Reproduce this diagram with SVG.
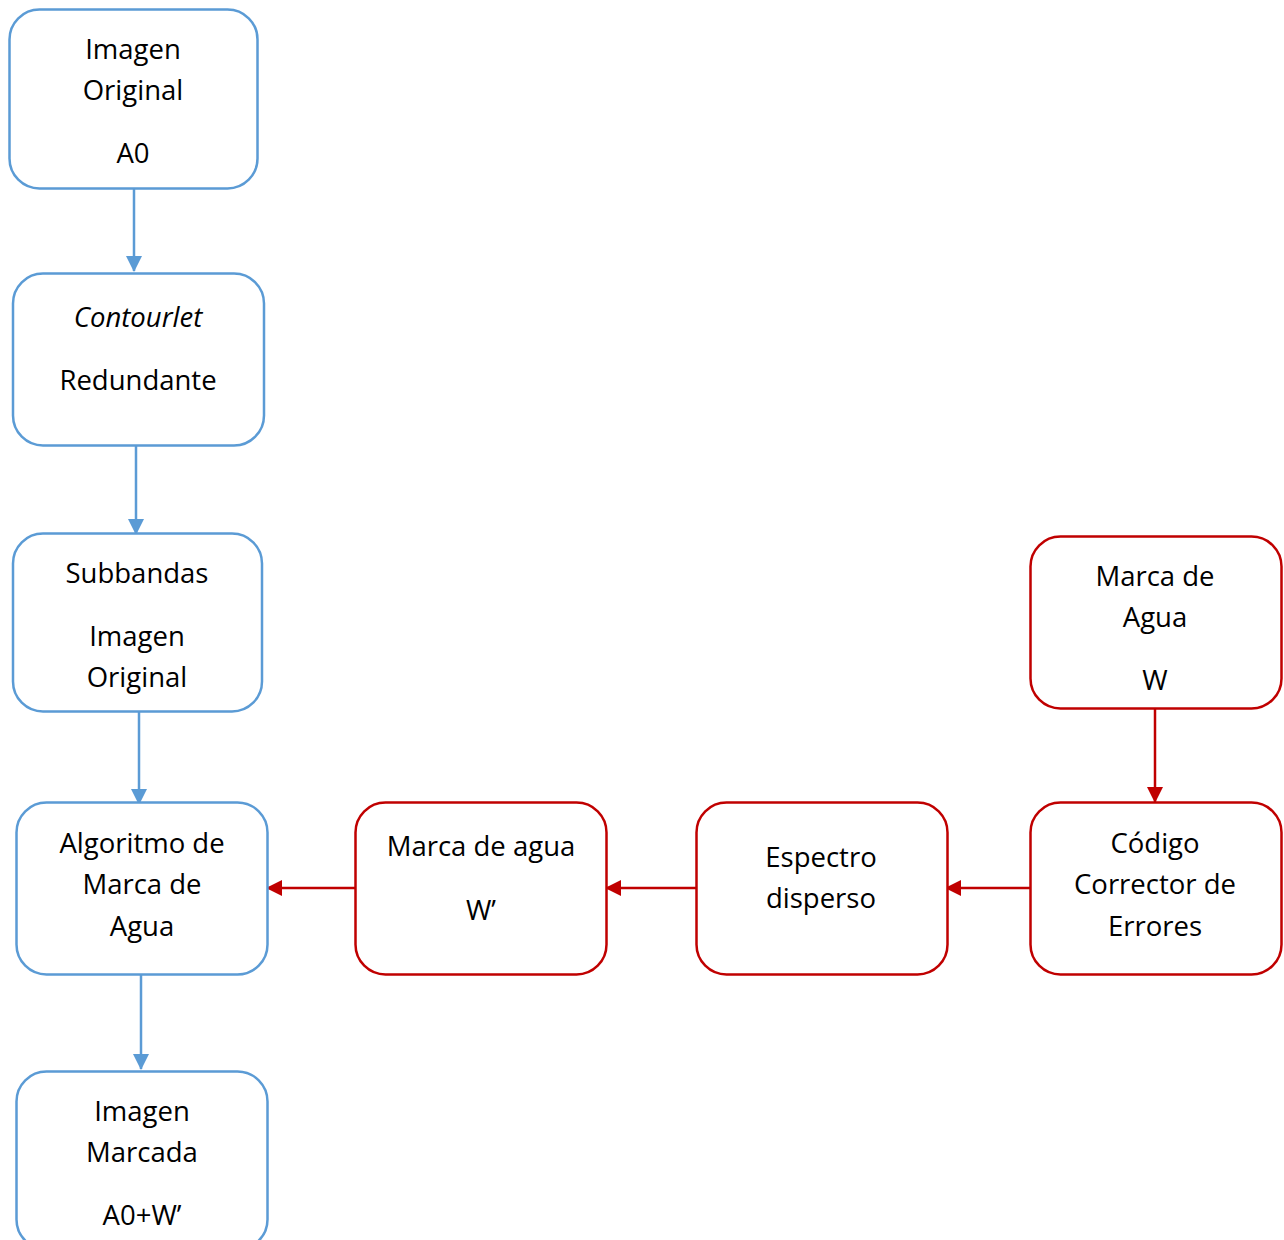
<svg xmlns="http://www.w3.org/2000/svg" width="1284" height="1240" viewBox="0 0 1284 1240">
  <style>
    .box { fill: #FFFFFF; stroke-width: 2.5; }
    .blue { stroke: #5B9BD5; }
    .red { stroke: #C00000; }
    .lbl { font-family: "Open Sans", "Liberation Sans", sans-serif; font-size: 27.5px; fill: #000000; text-anchor: middle; }
    .it { font-style: italic; }
    .wire { fill: none; stroke-width: 2.5; }
  </style>
  <defs>
    <marker id="arrowBlue" viewBox="0 0 16 16" refX="15" refY="8" markerWidth="16" markerHeight="16" markerUnits="userSpaceOnUse" orient="auto">
      <path d="M0,0 L16,8 L0,16 Z" fill="#5B9BD5"/>
    </marker>
    <marker id="arrowRed" viewBox="0 0 16 16" refX="15" refY="8" markerWidth="16" markerHeight="16" markerUnits="userSpaceOnUse" orient="auto">
      <path d="M0,0 L16,8 L0,16 Z" fill="#C00000"/>
    </marker>
  </defs>

  <g id="connectors">
    <line class="wire blue" x1="134" y1="189" x2="134" y2="271" marker-end="url(#arrowBlue)"/>
    <line class="wire blue" x1="136" y1="446" x2="136" y2="534" marker-end="url(#arrowBlue)"/>
    <line class="wire blue" x1="139" y1="712" x2="139" y2="804" marker-end="url(#arrowBlue)"/>
    <line class="wire blue" x1="141" y1="975" x2="141" y2="1069" marker-end="url(#arrowBlue)"/>
    <line class="wire red" x1="1155" y1="709" x2="1155" y2="802" marker-end="url(#arrowRed)"/>
    <line class="wire red" x1="1030" y1="888" x2="946" y2="888" marker-end="url(#arrowRed)"/>
    <line class="wire red" x1="696" y1="888" x2="606" y2="888" marker-end="url(#arrowRed)"/>
    <line class="wire red" x1="355" y1="888" x2="267" y2="888" marker-end="url(#arrowRed)"/>
  </g>

  <g id="imagen-original">
    <rect class="box blue" x="9.5" y="9.5" width="248" height="179" rx="30"/>
    <text class="lbl" x="133" y="59">Imagen</text>
    <text class="lbl" x="133" y="100">Original</text>
    <text class="lbl" x="133" y="163">A0</text>
  </g>

  <g id="contourlet">
    <rect class="box blue" x="13" y="273.5" width="251" height="172" rx="30"/>
    <text class="lbl it" x="138" y="327">Contourlet</text>
    <text class="lbl" x="138" y="390">Redundante</text>
  </g>

  <g id="subbandas">
    <rect class="box blue" x="13" y="533.5" width="249" height="178" rx="30"/>
    <text class="lbl" x="137" y="583">Subbandas</text>
    <text class="lbl" x="137" y="646">Imagen</text>
    <text class="lbl" x="137" y="687">Original</text>
  </g>

  <g id="algoritmo">
    <rect class="box blue" x="16.5" y="802.5" width="251" height="172" rx="30"/>
    <text class="lbl" x="142" y="853">Algoritmo de</text>
    <text class="lbl" x="142" y="894">Marca de</text>
    <text class="lbl" x="142" y="936">Agua</text>
  </g>

  <g id="imagen-marcada">
    <rect class="box blue" x="16.5" y="1071.5" width="251" height="178" rx="30"/>
    <text class="lbl" x="142" y="1121">Imagen</text>
    <text class="lbl" x="142" y="1162">Marcada</text>
    <text class="lbl" x="142" y="1225">A0+W’</text>
  </g>

  <g id="marca-agua-w-prima">
    <rect class="box red" x="355.5" y="802.5" width="251" height="172" rx="30"/>
    <text class="lbl" x="481" y="856">Marca de agua</text>
    <text class="lbl" x="481" y="920">W’</text>
  </g>

  <g id="espectro-disperso">
    <rect class="box red" x="696.5" y="802.5" width="251" height="172" rx="30"/>
    <text class="lbl" x="821" y="867">Espectro</text>
    <text class="lbl" x="821" y="908">disperso</text>
  </g>

  <g id="codigo-corrector">
    <rect class="box red" x="1030.5" y="802.5" width="251" height="172" rx="30"/>
    <text class="lbl" x="1155" y="853">Código</text>
    <text class="lbl" x="1155" y="894">Corrector de</text>
    <text class="lbl" x="1155" y="936">Errores</text>
  </g>

  <g id="marca-agua-w">
    <rect class="box red" x="1030.5" y="536.5" width="251" height="172" rx="30"/>
    <text class="lbl" x="1155" y="586">Marca de</text>
    <text class="lbl" x="1155" y="627">Agua</text>
    <text class="lbl" x="1155" y="690">W</text>
  </g>
</svg>
